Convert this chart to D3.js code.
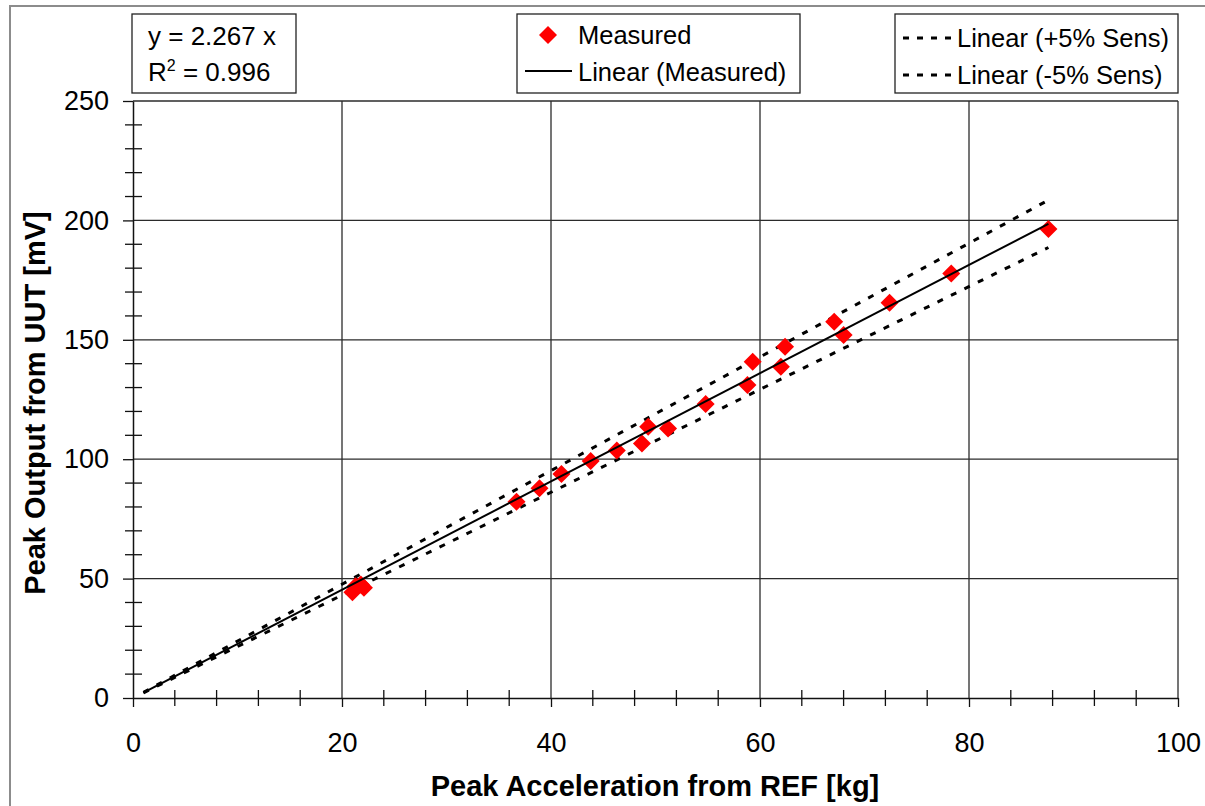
<!DOCTYPE html>
<html>
<head>
<meta charset="utf-8">
<script src="https://cdn.jsdelivr.net/npm/d3@7"></script>
<style>
  body { margin: 0; background: #fff; }
  svg { display: block; font-family: "Liberation Sans", Arial, sans-serif; }
</style>
</head>
<body>
<svg id="chart" width="1205" height="806"></svg>
<script>
// measured points
var refAccel = [21.0, 21.3, 21.8, 22.1, 36.7, 38.9, 41.0, 43.8, 46.3, 48.7, 49.3, 51.2,
                54.8, 58.8, 59.3, 62.0, 62.4, 67.1, 68.0, 72.4, 78.3, 87.6];
var uutOutput = [44.3, 46.8, 47.5, 46.2, 82.2, 87.8, 93.8, 99.2, 103.6, 106.6, 113.6, 112.9,
                 123.1, 131.1, 140.8, 138.7, 147.1, 157.6, 152.0, 165.5, 177.8, 196.4];

var slope = 2.267;
var rSquared = 0.996;
var trendRange = [1, 87.6];
var sensBand = [1.05, 0.95];

var xTicks = [0, 20, 40, 60, 80, 100];
var yTicks = [0, 50, 100, 150, 200, 250];

var svg = d3.select("#chart");
var pLeft = 133, pRight = 1178, pTop = 101, pBottom = 698;

var x = d3.scaleLinear().domain([0, 100]).range([pLeft, pRight]);
var y = d3.scaleLinear().domain([0, 250]).range([pBottom, pTop]);

// outer chart frame (only top and left edges visible)
svg.append("path")
  .attr("d", "M10,806 L10,6 L1205,6")
  .attr("fill", "none").attr("stroke", "#8c8c8c").attr("stroke-width", 2);

// gridlines
svg.append("g").selectAll("line").data(xTicks.slice(1)).enter().append("line")
  .attr("x1", function(d){ return x(d); }).attr("x2", function(d){ return x(d); })
  .attr("y1", pTop).attr("y2", pBottom)
  .attr("stroke", "#2b2b2b").attr("stroke-width", 1.3);
svg.append("g").selectAll("line").data(yTicks.slice(1)).enter().append("line")
  .attr("x1", pLeft).attr("x2", pRight)
  .attr("y1", function(d){ return y(d); }).attr("y2", function(d){ return y(d); })
  .attr("stroke", "#2b2b2b").attr("stroke-width", 1.3);

// minor ticks (cross the axis)
var xMinor = d3.range(0, 100.01, 4).filter(function(d){ return d % 20 != 0; });
var yMinor = d3.range(0, 250.01, 10).filter(function(d){ return d % 50 != 0; });
svg.append("g").selectAll("line").data(xMinor).enter().append("line")
  .attr("x1", function(d){ return x(d); }).attr("x2", function(d){ return x(d); })
  .attr("y1", pBottom - 8).attr("y2", pBottom + 8)
  .attr("stroke", "#111").attr("stroke-width", 1.3);
svg.append("g").selectAll("line").data(yMinor).enter().append("line")
  .attr("x1", pLeft - 8).attr("x2", pLeft + 9)
  .attr("y1", function(d){ return y(d); }).attr("y2", function(d){ return y(d); })
  .attr("stroke", "#111").attr("stroke-width", 1.3);

// axes
var xAxis = svg.append("g").attr("transform", "translate(0," + pBottom + ")")
  .call(d3.axisBottom(x).tickValues(xTicks).tickSize(9).tickPadding(26).tickSizeOuter(0));
var yAxis = svg.append("g").attr("transform", "translate(" + pLeft + ",0)")
  .call(d3.axisLeft(y).tickValues(yTicks).tickSize(10).tickPadding(14).tickSizeOuter(0));
[xAxis, yAxis].forEach(function(a){
  a.select(".domain").attr("stroke", "#111").attr("stroke-width", 1.5);
  a.selectAll(".tick line").attr("stroke", "#111").attr("stroke-width", 1.3);
  a.selectAll("text").attr("font-family", "Liberation Sans, Arial, sans-serif")
    .attr("font-size", 27).attr("fill", "#000");
});

// axis titles
svg.append("text").attr("x", 655).attr("y", 796).attr("text-anchor", "middle")
  .attr("font-size", 29).attr("font-weight", "bold").text("Peak Acceleration from REF [kg]");
svg.append("text").attr("transform", "translate(45,403) rotate(-90)").attr("text-anchor", "middle")
  .attr("font-size", 29).attr("font-weight", "bold").text("Peak Output from UUT [mV]");

// trend lines
var trend = d3.line().x(function(d){ return x(d[0]); }).y(function(d){ return y(d[1]); });
sensBand.forEach(function(k){
  svg.append("path")
    .attr("d", trend(trendRange.map(function(v){ return [v, slope * k * v]; })))
    .attr("fill", "none").attr("stroke", "#000").attr("stroke-width", 3)
    .attr("stroke-dasharray", "6,9");
});

var pts = refAccel.map(function(v, i){ return [v, uutOutput[i]]; });
var diamond = "M0,-9 L9,0 L0,9 L-9,0 Z";
svg.append("g").selectAll("path").data(pts).enter().append("path")
  .attr("d", diamond)
  .attr("transform", function(d){ return "translate(" + x(d[0]) + "," + y(d[1]) + ")"; })
  .attr("fill", "#ff0000");

svg.append("path")
  .attr("d", trend(trendRange.map(function(v){ return [v, slope * v]; })))
  .attr("fill", "none").attr("stroke", "#000").attr("stroke-width", 2);

// equation box
var eq = svg.append("g");
eq.append("rect").attr("x", 132).attr("y", 14).attr("width", 164).attr("height", 79)
  .attr("fill", "#fff").attr("stroke", "#222").attr("stroke-width", 1.3);
eq.append("text").attr("x", 148).attr("y", 45).attr("font-size", 26).text("y = " + slope + " x");
var r2 = eq.append("text").attr("x", 148).attr("y", 81).attr("font-size", 26);
r2.append("tspan").text("R");
r2.append("tspan").attr("dy", -10).attr("font-size", 16).text("2");
r2.append("tspan").attr("dy", 10).text(" = " + rSquared);

// legend: measured
var lg1 = svg.append("g");
lg1.append("rect").attr("x", 517).attr("y", 14).attr("width", 283).attr("height", 79)
  .attr("fill", "#fff").attr("stroke", "#222").attr("stroke-width", 1.3);
lg1.append("path").attr("d", diamond).attr("transform", "translate(548,35)").attr("fill", "#ff0000");
lg1.append("text").attr("x", 578).attr("y", 44).attr("font-size", 25.5).text("Measured");
lg1.append("line").attr("x1", 525).attr("x2", 572).attr("y1", 71).attr("y2", 71)
  .attr("stroke", "#000").attr("stroke-width", 2);
lg1.append("text").attr("x", 578).attr("y", 81).attr("font-size", 25.5).text("Linear (Measured)");

// legend: sensitivity band
var lg2 = svg.append("g");
lg2.append("rect").attr("x", 895).attr("y", 14).attr("width", 283).attr("height", 79)
  .attr("fill", "#fff").attr("stroke", "#222").attr("stroke-width", 1.3);
["Linear (+5% Sens)", "Linear (-5% Sens)"].forEach(function(t, i){
  var yy = 38 + i * 37;
  lg2.append("line").attr("x1", 903).attr("x2", 952).attr("y1", yy).attr("y2", yy)
    .attr("stroke", "#000").attr("stroke-width", 3).attr("stroke-dasharray", "6,8");
  lg2.append("text").attr("x", 957).attr("y", yy + 9).attr("font-size", 25.5).text(t);
});
</script>
</body>
</html>
